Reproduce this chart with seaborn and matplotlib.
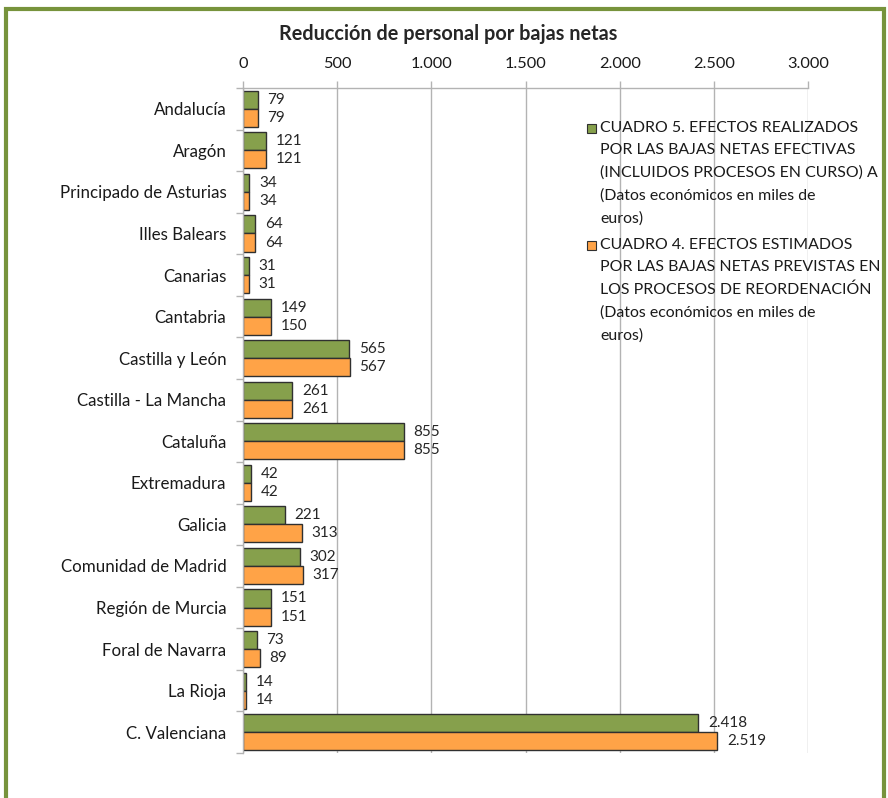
import numpy as np
import pandas as pd
import matplotlib
matplotlib.use("Agg")
import matplotlib.pyplot as plt
from matplotlib.patches import Rectangle
import seaborn as sns

# ---------------- data ----------------
regiones = ['Andalucía', 'Aragón', 'Principado de Asturias', 'Illes Balears',
            'Canarias', 'Cantabria', 'Castilla y León', 'Castilla - La Mancha',
            'Cataluña', 'Extremadura', 'Galicia', 'Comunidad de Madrid',
            'Región de Murcia', 'Foral de Navarra', 'La Rioja', 'C. Valenciana']
cuadro5 = [79, 121, 34, 64, 31, 149, 565, 261, 855, 42, 221, 302, 151, 73, 14, 2418]
cuadro4 = [79, 121, 34, 64, 31, 150, 567, 261, 855, 42, 313, 317, 151, 89, 14, 2519]

serie5 = ('CUADRO 5. EFECTOS REALIZADOS\nPOR LAS BAJAS NETAS EFECTIVAS\n'
          '(INCLUIDOS PROCESOS EN CURSO) A\n(Datos económicos en miles de\neuros)')
serie4 = ('CUADRO 4. EFECTOS ESTIMADOS\nPOR LAS BAJAS NETAS PREVISTAS EN\n'
          'LOS PROCESOS DE REORDENACIÓN\n(Datos económicos en miles de\neuros)')
xticks = [0, 500, 1000, 1500, 2000, 2500, 3000]

green = '#86a04c'
orange = '#ffa347'
grid_c = '#b3b3b3'

df = pd.DataFrame({'region': regiones * 2,
                   'valor': cuadro5 + cuadro4,
                   'serie': ['c5'] * len(regiones) + ['c4'] * len(regiones)})

def miles(v):
    return f"{v:,}".replace(",", ".")

# ---------------- plot ----------------
sns.set_theme(style='white')
plt.rcParams['font.family'] = ['Lato', 'DejaVu Sans']

fig = plt.figure(figsize=(8.88, 7.98), dpi=100)
ax = fig.add_axes([243/888, 1-753/798, 565/888, 665/798])

sns.barplot(data=df, y='region', x='valor', hue='serie', orient='h',
            palette=[green, orange], saturation=1, width=0.87,
            edgecolor='#303030', linewidth=1, legend=False, ax=ax)

for cont, vals in zip(ax.containers, [cuadro5, cuadro4]):
    ax.bar_label(cont, labels=[miles(v) for v in vals], padding=7,
                 fontsize=11, color='#262626')

ax.set_xlim(0, 3000)
ax.set_ylim(len(regiones) - 0.5, -0.5)
ax.set_xticks(xticks)
ax.set_xticklabels([miles(v) for v in xticks])
ax.xaxis.tick_top()
ax.set_xlabel('')
ax.set_ylabel('')
ax.grid(axis='x', color=grid_c, linewidth=1)
ax.set_axisbelow(True)

ax.set_yticks(np.arange(-0.5, len(regiones), 1), minor=True)
ax.tick_params(axis='y', which='major', length=0, pad=12, labelsize=12.2,
               labelcolor='#1a1a1a')
ax.tick_params(axis='y', which='minor', length=5, color=grid_c, width=1,
               direction='out', left=True)
ax.tick_params(axis='x', which='major', length=5, color=grid_c, width=1,
               direction='out', pad=7, labelsize=11.8, labelcolor='#1a1a1a',
               top=True, bottom=False)

for s in ['right', 'bottom']:
    ax.spines[s].set_visible(False)
for s in ['left', 'top']:
    ax.spines[s].set_color(grid_c)
    ax.spines[s].set_linewidth(1)

fig.text(448/888, 1-34/798, 'Reducción de personal por bajas netas',
         ha='center', va='center', fontsize=14.3, fontweight='bold')

# legend drawn by hand so the marker sits on the first line
leg_items = [(serie5, green, 121), (serie4, orange, 238)]
for txt, col, ytop in leg_items:
    fig.text(600/888, 1-ytop/798, txt, ha='left', va='top', fontsize=11.4,
             linespacing=1.74, color='#1a1a1a')
    fig.patches.append(Rectangle((587/888, 1-(ytop+12)/798), 9/888, 9/798,
                                 transform=fig.transFigure, facecolor=col,
                                 edgecolor='#303030', linewidth=0.8))

# green frame around the chart
fig.patches.append(Rectangle((6/888, -0.05), 878/888, 1.05-9/798,
                             transform=fig.transFigure, fill=False,
                             edgecolor='#77933c', linewidth=3))

fig.savefig('out.png', dpi=100)
